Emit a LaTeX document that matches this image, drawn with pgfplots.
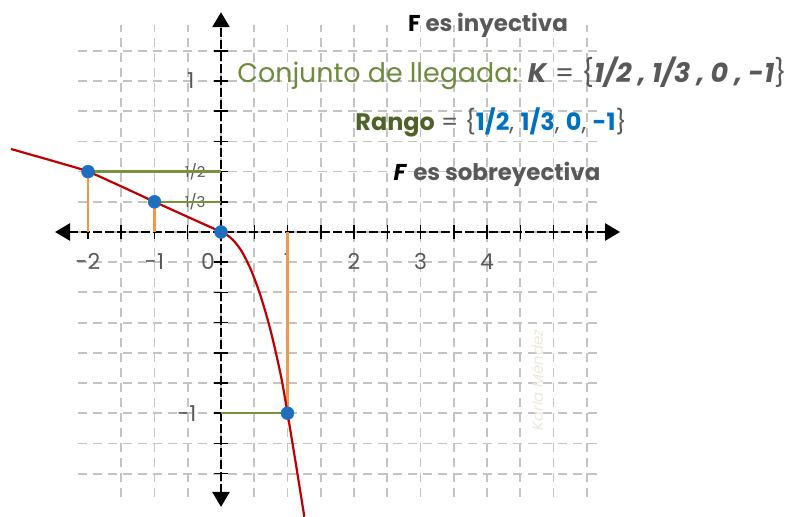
\documentclass[border=0pt]{standalone}
\usepackage{pgfplots}
\pgfplotsset{compat=1.18}
\usetikzlibrary{arrows.meta}
\usepackage{fontspec}
\setmainfont{Poppins}

\definecolor{gridgray}{HTML}{C4C4C4}
\definecolor{curvered}{HTML}{C00000}
\definecolor{ptblue}{HTML}{1F6FBF}
\definecolor{segorange}{HTML}{F79646}
\definecolor{seggreen}{HTML}{77933C}
\definecolor{olive}{HTML}{4F6228}
\definecolor{txtgray}{HTML}{595959}
\definecolor{lightgreen}{HTML}{6E8B3D}
\definecolor{rangeblue}{HTML}{0070C0}
\definecolor{signature}{HTML}{ECE9DD}

\begin{document}
\begin{tikzpicture}
\begin{axis}[
  x=66.5bp, y=30.2bp,
  anchor=origin, at={(0,0)},
  % the vertical scale of the sketch is not uniform:
  % 1/3 -> one grid step, 1/2 -> two steps, 1 -> five steps, -1 -> six steps
  y coord trafo/.code={\pgfmathparse{(#1)<0 ? 6*(#1) : ((#1)<1/3 ? 3*(#1) : 6*(#1)-1)}},
  xmin=-2.15, xmax=5.7,
  ymin=-1.462, ymax=1.308,
  axis lines=middle,
  clip=false,
  hide obscured x ticks=false,
  hide obscured y ticks=false,
  axis line style={black, line width=2.6bp, dash pattern=on 9bp off 3bp},
  x axis line style={{Triangle[length=15bp,width=17bp]}-{Triangle[length=15bp,width=17bp]},
    shorten <=-23bp, shorten >=-20bp},
  y axis line style={{Triangle[length=15bp,width=17bp]}-{Triangle[length=15bp,width=17bp]},
    shorten <=-10bp, shorten >=-13bp},
  tick align=center,
  major tick length=14bp,
  tick style={black, line width=1.5bp, solid},
  grid=major,
  grid style={gridgray, line width=1.8bp, dash pattern=on 9bp off 6bp},
  xtick={-1.5,-1,...,5.5},
  xticklabels={,-1,,{\llap{0\kern6bp}},,1,,2,,3,,4,,,},
  extra x ticks={-2},
  extra x tick labels={-2},
  extra x tick style={grid=none},
  ytick={-8/6,-7/6,-1,-5/6,-4/6,-3/6,-2/6,-1/6,0,1/3,1/2,2/3,5/6,1,7/6},
  yticklabels={,,{-1\kern9bp},,,,,,,{\fontsize{15}{15}\selectfont 1/3},{\fontsize{15}{15}\selectfont 1/2},,,{1\kern11bp},},
  tick label style={font=\fontsize{22}{22}\selectfont, text=txtgray},
  xticklabel style={anchor=north, yshift=-11bp},
  yticklabel style={anchor=east, xshift=-5bp},
]
% projections of each point onto the x axis
\addplot[segorange, line width=2.2bp] coordinates {(-2,0) (-2,0.5)};
\addplot[segorange, line width=2.2bp] coordinates {(-1,0) (-1,0.333333)};
\addplot[segorange, line width=2.2bp] coordinates {(1,0) (1,-1)};
% projections onto the y axis
\addplot[seggreen, line width=2.2bp] coordinates {(-2,0.5) (0,0.5)};
\addplot[seggreen, line width=2.2bp] coordinates {(-1,0.333333) (0,0.333333)};
\addplot[seggreen, line width=2.2bp] coordinates {(0,-1) (1,-1)};
% the four pairs of F
\addplot[only marks, mark=*, mark size=6.5bp, ptblue] coordinates {
  (-2,0.5) (-1,0.333333) (0,0) (1,-1)};
% the curve through them
\addplot[curvered, line width=2.2bp, smooth] coordinates {
  (-3.158,0.6247) (-2.421,0.5475) (-2,0.5) (-1.5,0.4183) (-1,0.333333)
  (-0.5,0.1667) (0,0) (0.15,-0.0333) (0.3,-0.1)
  (0.45,-0.2083) (0.6,-0.3583) (0.75,-0.55) (0.9,-0.7917) (1,-1)
  (1.12,-1.2667) (1.253,-1.571)};
\end{axis}

\begin{scope}[every node/.style={inner sep=0pt}]
\node at (267bp,207bp) {\fontsize{23}{26}\selectfont\bfseries F \textcolor{txtgray}{es inyectiva}};
\node at (291bp,159bp) {\fontsize{27}{30}\selectfont
  \textcolor{lightgreen}{Conjunto de llegada:}
  \textcolor{txtgray}{\textbf{\textit{K}} = \{\textbf{\textit{1/2 , 1/3 , 0 , -1}}\}}};
\node at (270bp,110bp) {\fontsize{24}{27}\selectfont
  \textcolor{olive}{\bfseries Rango} \textcolor{txtgray}{= \{}%
  \textcolor{rangeblue}{\bfseries 1/2}\textcolor{txtgray}{, }%
  \textcolor{rangeblue}{\bfseries 1/3}\textcolor{txtgray}{, }%
  \textcolor{rangeblue}{\bfseries 0}\textcolor{txtgray}{, }%
  \textcolor{rangeblue}{\bfseries -1}\textcolor{txtgray}{\}}};
\node at (276bp,58bp) {\fontsize{23}{26}\selectfont
  \textbf{\textit{F}} \textcolor{txtgray}{\bfseries es sobreyectiva}};
\node[rotate=90, text=signature] at (316bp,-148bp) {\fontsize{15}{15}\selectfont\itshape Karla Méndez};
\end{scope}

\pgfresetboundingbox
\path (-221bp,-285bp) rectangle (566bp,232bp);
\end{tikzpicture}
\end{document}
